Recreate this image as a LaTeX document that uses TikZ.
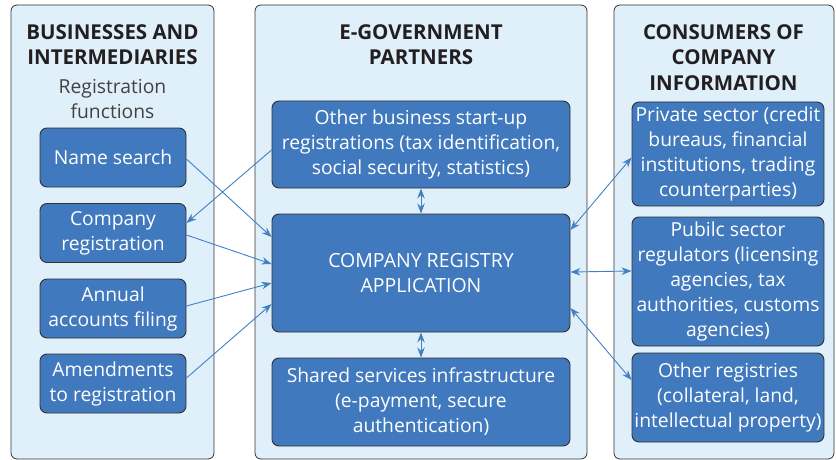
\documentclass[tikz,border=0pt]{standalone}
\usepackage{fontspec}
\setmainfont{Open Sans}
\usetikzlibrary{arrows.meta}

\definecolor{panelfill}{RGB}{224,240,250}
\definecolor{boxfill}{RGB}{64,121,190}
\definecolor{linkblue}{RGB}{66,128,198}
\definecolor{edgegray}{RGB}{50,50,50}
\definecolor{headtext}{RGB}{35,31,32}

\begin{document}
\begin{tikzpicture} [
    x=1pt, y=-1pt,
    panel/.style={rectangle,rounded corners=6pt,draw=edgegray,fill=panelfill,line width=0.8pt},
    fn/.style={rectangle,rounded corners=7pt,draw=edgegray,fill=boxfill,line width=0.9pt,
      text=white,align=center,inner sep=0pt,font=\fontsize{19.3}{25}\selectfont},
    head/.style={align=center,text=headtext,inner sep=0pt,font=\fontsize{20.5}{25.5}\selectfont\bfseries},
    sub/.style={align=center,text=headtext!85,inner sep=0pt,font=\fontsize{19.3}{25}\selectfont},
    link/.style={draw=linkblue,line width=0.9pt,-{Stealth[length=10pt,width=7.5pt]}},
    both/.style={link,{Stealth[length=10pt,width=7.5pt]}-{Stealth[length=10pt,width=7.5pt]}},
    ]
    \useasboundingbox (0,0) rectangle (836,460);

    % Panels
    \node[panel,minimum width=203pt,minimum height=454pt] (bus) at (112.5,232) {};
    \node[panel,minimum width=332pt,minimum height=454pt] (gov) at (421,232) {};
    \node[panel,minimum width=220pt,minimum height=454pt] (con) at (724,232) {};

    % Headings
    \node[head,anchor=north] (bushead) at (112.5,24) {BUSINESSES AND\\INTERMEDIARIES};
    \node[sub,anchor=north] (regfn) at (112.5,79) {Registration\\functions};
    \node[head,anchor=north] (govhead) at (421,24) {E-GOVERNMENT\\PARTNERS};
    \node[head,anchor=north] (conhead) at (723.5,24) {CONSUMERS OF\\COMPANY\\INFORMATION};

    % First column
    \node[fn,minimum width=146pt,minimum height=59pt] (name) at (113,157.5) {Name search};
    \node[fn,minimum width=146pt,minimum height=59pt] (creg) at (113,233) {Company\\registration};
    \node[fn,minimum width=146pt,minimum height=59pt] (annual) at (113,308.5) {Annual\\accounts filing};
    \node[fn,minimum width=146pt,minimum height=59pt] (amend) at (113,383.5) {Amendments\\to registration};

    % Second column
    \node[fn,minimum width=298pt,minimum height=87pt] (startup) at (421,144.5)
      {Other business start-up\\registrations (tax identification,\\social security, statistics)};
    \node[fn,minimum width=298pt,minimum height=118pt,font=\fontsize{19.5}{25}\selectfont] (cra) at (421,273)
      {COMPANY REGISTRY\\APPLICATION};
    \node[fn,minimum width=298pt,minimum height=88pt] (shared) at (421,402)
      {Shared services infrastructure\\(e-payment, secure\\authentication)};

    % Third column
    \node[fn,minimum width=192pt,minimum height=104pt] (priv) at (728,154)
      {Private sector (credit\\bureaus, financial\\institutions, trading\\counterparties)};
    \node[fn,minimum width=192pt,minimum height=129pt] (pub) at (728,281.5)
      {Pubilc sector\\regulators (licensing\\agencies, tax\\authorities, customs\\agencies)};
    \node[fn,minimum width=192pt,minimum height=89pt] (oreg) at (728,397.5)
      {Other registries\\(collateral, land,\\intellectual property)};

    % Links
    \draw[link] ([yshift=-1.5pt]name.east) -- ([yshift=36pt]cra.west);
    \draw[link] ([yshift=-5.5pt]startup.west) -- ([yshift=10pt]creg.east);
    \draw[link] ([yshift=-2pt]creg.east) -- ([yshift=9pt]cra.west);
    \draw[link] ([yshift=2.5pt]annual.east) -- ([yshift=-10pt]cra.west);
    \draw[link] ([yshift=5.5pt]amend.east) -- ([yshift=-31pt]cra.west);
    \draw[both] (startup.south) -- (cra.north);
    \draw[both] (cra.south) -- (shared.north);
    \draw[both] ([yshift=43pt]cra.east) -- ([yshift=-3.5pt]priv.west);
    \draw[both] ([yshift=1pt]cra.east) -- ([yshift=10.5pt]pub.west);
    \draw[both] ([yshift=-35pt]cra.east) -- ([yshift=17.5pt]oreg.west);
\end{tikzpicture}
\end{document}
